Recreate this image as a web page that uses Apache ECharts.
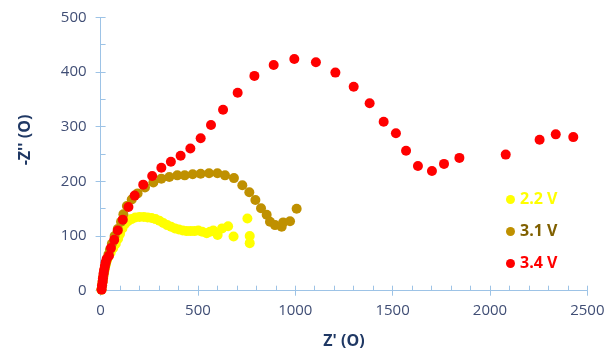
<!DOCTYPE html>
<html>
<head>
<meta charset="utf-8">
<script src="https://cdn.jsdelivr.net/npm/echarts@6/dist/echarts.min.js"></script>
<style>
  html, body { margin: 0; padding: 0; background: #fff; }
  #main { width: 613px; height: 351px; }
</style>
</head>
<body>
<div id="main"></div>
<script>
// legend names
var seriesNames = ['2.2 V', '3.1 V', '3.4 V'];
var seriesColors = ['#FFFF00', '#BF9000', '#FF0000'];
var legendTextColors = ['#FFFF00', '#806000', '#FF0000'];

// [Z', -Z''] pairs
var v22 = [[4,2],[7,9],[10,16],[13,23],[17,31],[21,39],[26,47],[32,55],[40,62],[52,70],[65,78],[78,86],[90,95],
  [100,104],[112,114],[125,122],[140,127],[158,131],[178,134],[200,135],[222,135],[242,134],[262,133],[282,131],[302,128],
  [322,124],[342,120],[362,117],[382,114],[402,112],[422,110],[442,109],[462,109],[482,109],[502,110],[522,108],
  [545,105],[562,108],[579,110],[601,102],[624,114],[655,118],[683,99],[754,132],[766,100],[766,87]];

var v31 = [[5,2],[8,10],[11,18],[14,26],[18,34],[22,42],[27,50],[33,58],[40,66],[48,75],[58,86],[72,100],[88,113],
  [105,126],[117,140],[135,155],[160,167],[190,178],[228,189],[271,198],[312,205],[353,208],[394,211],[432,211],
  [473,213],[514,214],[557,215],[600,215],[639,211],[685,206],[728,193],[764,180],[795,166],[824,151],[853,139],
  [870,126],[896,120],[930,117],[938,125],[973,127],[1007,150]];

var v34 = [[5,2],[7,9],[10,16],[12,23],[15,31],[18,38],[22,45],[26,52],[31,58],[43,64],[53,78],[70,93],[88,110],
  [114,130],[143,153],[175,174],[219,194],[265,210],[312,225],[361,236],[411,247],[461,260],[514,279],[567,303],
  [629,331],[704,362],[790,393],[889,413],[995,424],[1106,418],[1206,399],[1300,373],[1382,343],[1454,309],
  [1517,288],[1569,256],[1630,228],[1702,219],[1764,232],[1843,243],[2081,249],[2255,276],[2338,286],[2428,281]];

var xTicks = [0, 500, 1000, 1500, 2000, 2500];
var yTicks = [0, 100, 200, 300, 400, 500];

var axisBlue = '#9DC3E6';
var labelColor = '#404E75';
var nameColor = '#1F3864';
var fontName = 'Open Sans';

var chart = echarts.init(document.getElementById('main'), null, { renderer: 'canvas' });

var option = {
  animation: false,
  backgroundColor: '#fff',
  grid: { left: 100.6, right: 25.7, top: 17.4, bottom: 60.3, outerBoundsMode: 'none', containLabel: false },
  legend: {
    orient: 'vertical',
    left: 501,
    top: 186,
    itemWidth: 9,
    itemHeight: 9,
    itemGap: 15,
    icon: 'circle',
    data: seriesNames.map(function (n, i) {
      return { name: n, textStyle: { color: legendTextColors[i] } };
    }),
    textStyle: { fontFamily: fontName, fontSize: 16, fontWeight: 'bold', lineHeight: 17 }
  },
  xAxis: [{
    type: 'value', min: xTicks[0], max: xTicks[xTicks.length - 1], interval: 500,
    name: "Z' (O)", nameLocation: 'middle', nameGap: 43,
    nameTextStyle: { fontFamily: fontName, fontSize: 16, fontWeight: 'bold', color: nameColor },
    axisLine: { show: true, lineStyle: { color: axisBlue, width: 1 } },
    axisTick: { show: true, inside: true, length: 5, lineStyle: { color: axisBlue } },
    minorTick: { show: true, splitNumber: 5, length: 5, lineStyle: { color: axisBlue } },
    axisLabel: {
      fontFamily: fontName, fontSize: 15, color: labelColor, margin: 13,
      formatter: function (v) { return String(v); }
    },
    splitLine: { show: false }
  }, {
    type: 'value', min: xTicks[0], max: xTicks[xTicks.length - 1], interval: 500, position: 'bottom',
    axisLine: { show: false },
    axisTick: { show: true, inside: false, length: 5, lineStyle: { color: axisBlue } },
    axisLabel: { show: false },
    splitLine: { show: false }
  }],
  yAxis: [{
    type: 'value', min: yTicks[0], max: yTicks[yTicks.length - 1], interval: 100,
    axisLine: { show: true, lineStyle: { color: axisBlue, width: 1 } },
    axisTick: { show: true, inside: true, length: 5, lineStyle: { color: axisBlue } },
    minorTick: { show: true, splitNumber: 2, length: 5, lineStyle: { color: axisBlue } },
    axisLabel: { fontFamily: fontName, fontSize: 15, color: labelColor, margin: 14 },
    splitLine: { show: false }
  }, {
    type: 'value', min: yTicks[0], max: yTicks[yTicks.length - 1], interval: 100, position: 'left',
    axisLine: { show: false },
    axisTick: { show: true, inside: false, length: 5, lineStyle: { color: axisBlue } },
    axisLabel: { show: false },
    splitLine: { show: false }
  }],
  graphic: [{
    type: 'text',
    x: 25, y: 140,
    rotation: Math.PI / 2,
    style: {
      text: "-Z'' (O)",
      fontFamily: fontName, fontSize: 16, fontWeight: 'bold',
      fill: nameColor, textAlign: 'center', textVerticalAlign: 'middle'
    }
  }],
  series: [
    { name: seriesNames[0], type: 'scatter', data: v22, symbolSize: 10, itemStyle: { color: seriesColors[0], opacity: 1 } },
    { name: seriesNames[1], type: 'scatter', data: v31, symbolSize: 10, itemStyle: { color: seriesColors[1], opacity: 1 } },
    { name: seriesNames[2], type: 'scatter', data: v34, symbolSize: 10, itemStyle: { color: seriesColors[2], opacity: 1 } }
  ]
};

chart.setOption(option);
</script>
</body>
</html>
